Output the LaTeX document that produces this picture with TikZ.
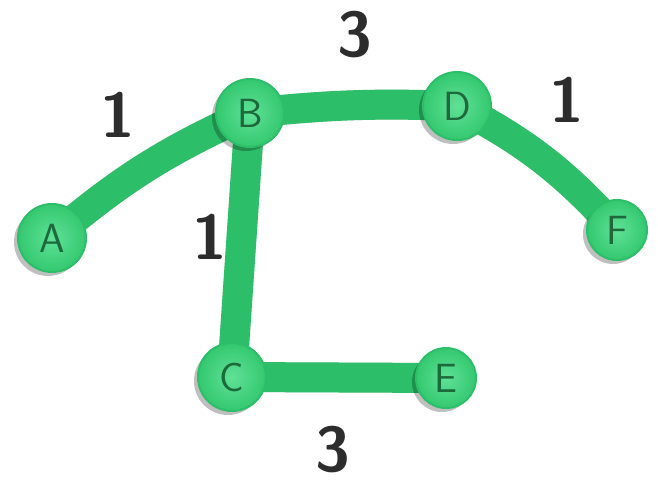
\documentclass[tikz,border=0pt]{standalone}
\usepackage{tikz}
\usetikzlibrary{backgrounds,shadows}

\definecolor{edgegreen}{RGB}{45,190,105}
\definecolor{nodegreen}{RGB}{52,200,112}
\definecolor{nodelight}{RGB}{95,225,150}
\definecolor{lettergreen}{RGB}{30,105,60}
\definecolor{ink}{RGB}{45,45,45}

\begin{document}
\begin{tikzpicture}[
      x=0.5mm, y=-0.5mm,
      vertex/.style={circle, inner sep=0pt, minimum size=34mm, draw=edgegreen, line width=1mm,
        inner color=nodelight, outer color=nodegreen, text=lettergreen,
        font=\sffamily\fontsize{58}{58}\selectfont,
        drop shadow={shadow xshift=-2mm, shadow yshift=-2mm, opacity=0.25, fill=black}},
      edge/.style={line width=15mm, edgegreen, line cap=round},
      shade/.style={line width=15mm, black, opacity=0.15, line cap=round},
      weight/.style={text=ink, font=\sffamily\bfseries\fontsize{90}{90}\selectfont}
    ]
    \useasboundingbox (0,0) rectangle (658,485);

    \node[vertex] (A) at (52,238) {A};
    \node[vertex] (B) at (250,113) {B};
    \node[vertex] (D) at (457,106) {D};
    \node[vertex, minimum size=30mm] (F) at (617,230) {F};
    \node[vertex] (C) at (232,377) {C};
    \node[vertex, minimum size=30mm] (E) at (446,378) {E};

    \begin{scope}[on background layer]
      % shadows under the edges
      \begin{scope}[xshift=-1.5mm, yshift=-1.5mm]
        \draw[shade] (A.center) to[bend left=8] (B.center);
        \draw[shade] (B.center) to[bend left=4] (D.center);
        \draw[shade] (D.center) to[bend left=10] (F.center);
        \draw[shade] (B.center) -- (C.center);
        \draw[shade] (C.center) -- (E.center);
      \end{scope}
      \draw[edge] (A.center) to[bend left=8] (B.center);
      \draw[edge] (B.center) to[bend left=4] (D.center);
      \draw[edge] (D.center) to[bend left=10] (F.center);
      \draw[edge] (B.center) -- (C.center);
      \draw[edge] (C.center) -- (E.center);
    \end{scope}

    \node[weight] (wab) at (118,115) {1};
    \node[weight] (wbd) at (355,35) {3};
    \node[weight] (wdf) at (567,100) {1};
    \node[weight] (wbc) at (210,237) {1};
    \node[weight] (wce) at (333,450) {3};
  \end{tikzpicture}
\end{document}
